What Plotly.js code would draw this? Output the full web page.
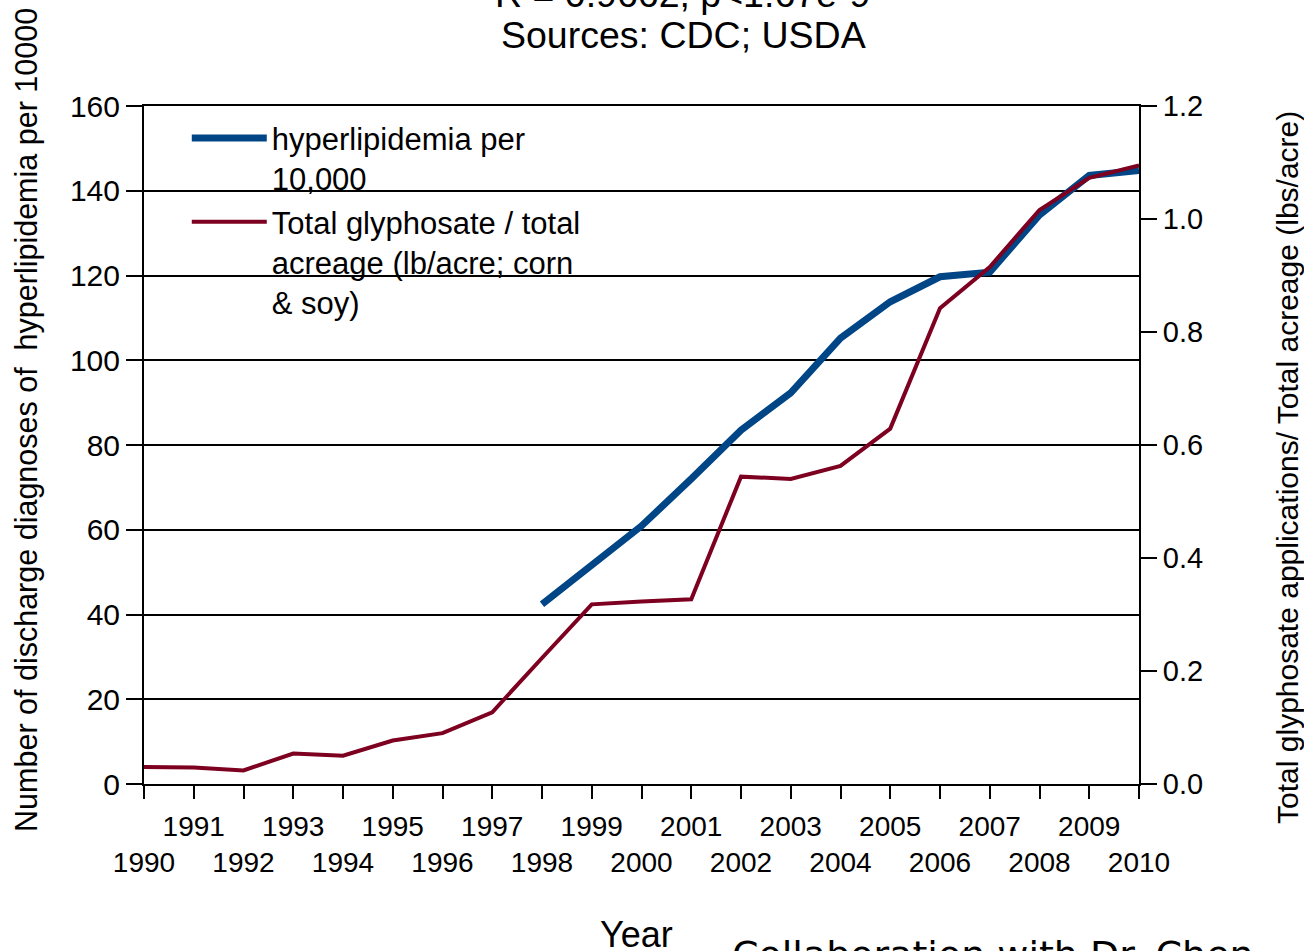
<!DOCTYPE html>
<html>
<head>
<meta charset="utf-8">
<script src="https://cdn.plot.ly/plotly-3.0.1.min.js"></script>
<style>html,body{margin:0;padding:0;background:#fff;}#chart{width:1304px;height:951px;}</style>
</head>
<body>
<div id="chart"></div>
<script>
// Data
const years = [1990,1991,1992,1993,1994,1995,1996,1997,1998,1999,2000,2001,2002,2003,2004,2005,2006,2007,2008,2009,2010];
const hypYears = [1998,1999,2000,2001,2002,2003,2004,2005,2006,2007,2008,2009,2010];
const hyperlipidemia = [42.4,51.5,60.9,72.0,83.5,92.3,105.2,113.8,119.7,120.8,134.3,143.6,144.8];
const glyphosate = [0.030,0.029,0.024,0.054,0.050,0.077,0.090,0.127,0.223,0.318,0.323,0.327,0.544,0.540,0.563,0.629,0.842,0.915,1.016,1.073,1.095];
const xTickVals = years;
const xTickText = years.map(y => (y % 2 === 0 ? '<br>' + y : String(y)));
const leftTicks = [0,20,40,60,80,100,120,140,160];
const rightTicks = [0,0.2,0.4,0.6,0.8,1.0,1.2];
const rightTickText = rightTicks.map(v => v.toFixed(1));
const seriesNames = ['hyperlipidemia per<br>10,000', 'Total glyphosate / total<br>acreage (lb/acre; corn<br>& soy)'];
const titleLine1 = 'R = 0.9662, p<1.67e-9';
const titleLine2 = 'Sources: CDC; USDA';
const leftTitle = 'Number of discharge diagnoses of  hyperlipidemia per 10000';
const rightTitle = 'Total glyphosate applications/ Total acreage (lbs/acre)';
const xTitle = 'Year';
const footer = 'Collaboration with Dr. Chen';

const SANS = 'Liberation Sans, Arial, sans-serif';
const NARROW = 'Liberation Sans Narrow, Liberation Sans, Arial Narrow, sans-serif';

const traces = [
  {x: hypYears, y: hyperlipidemia, type: 'scatter', mode: 'lines', name: seriesNames[0],
   line: {color: '#004586', width: 7}, yaxis: 'y', hoverinfo: 'x+y'},
  {x: years, y: glyphosate, type: 'scatter', mode: 'lines', name: seriesNames[1],
   line: {color: '#7e0021', width: 4}, yaxis: 'y2', hoverinfo: 'x+y'}
];

const layout = {
  width: 1304, height: 951,
  margin: {l: 144, r: 165, t: 106, b: 167, pad: 0},
  paper_bgcolor: '#fff', plot_bgcolor: '#fff',
  font: {family: SANS, color: '#000'},
  showlegend: true,
  legend: {x: 0.043, y: 0.992, xanchor: 'left', yanchor: 'top', bgcolor: 'rgba(0,0,0,0)',
           font: {family: SANS, size: 31, color: '#000'}, itemwidth: 75, valign: 'top',
           tracegroupgap: 0},
  xaxis: {range: [1990, 2010], tickmode: 'array', tickvals: xTickVals, ticktext: xTickText,
          ticks: 'outside', ticklen: 13, tickwidth: 2, tickcolor: '#000',
          showline: true, linecolor: '#000', linewidth: 2, mirror: true,
          showgrid: false, zeroline: false, tickangle: 0, ticklabelstandoff: 3,
          tickfont: {family: SANS, size: 28, color: '#000'}},
  yaxis: {range: [0, 160], tickmode: 'array', tickvals: leftTicks,
          ticks: 'outside', ticklen: 16, tickwidth: 2, tickcolor: '#000',
          showline: true, linecolor: '#000', linewidth: 2,
          showgrid: true, gridcolor: '#000', gridwidth: 2, zeroline: false,
          tickfont: {family: SANS, size: 30, color: '#000'}},
  yaxis2: {range: [0, 1.2], overlaying: 'y', side: 'right', tickmode: 'array',
           tickvals: rightTicks, ticktext: rightTickText,
           ticks: 'outside', ticklen: 16, tickwidth: 2, tickcolor: '#000',
           showline: true, linecolor: '#000', linewidth: 2,
           showgrid: false, zeroline: false,
           tickfont: {family: SANS, size: 29, color: '#000'}},
  annotations: [
    {text: titleLine1, xref: 'paper', yref: 'paper', x: 0.5412, y: 1.1645, xanchor: 'center', yanchor: 'middle',
     showarrow: false, font: {family: SANS, size: 37.5, color: '#000'}},
    {text: titleLine2, xref: 'paper', yref: 'paper', x: 0.5418, y: 1.105, xanchor: 'center', yanchor: 'middle',
     showarrow: false, font: {family: SANS, size: 37.5, color: '#000'}},
    {text: leftTitle, xref: 'paper', yref: 'paper', x: -0.1176, y: 0.537, xanchor: 'center', yanchor: 'middle',
     textangle: -90, showarrow: false, font: {family: NARROW, size: 30.5, color: '#000'}},
    {text: rightTitle, xref: 'paper', yref: 'paper', x: 1.1497, y: 0.4676, xanchor: 'center', yanchor: 'middle',
     textangle: -90, showarrow: false, font: {family: NARROW, size: 30, color: '#000'}},
    {text: xTitle, xref: 'paper', yref: 'paper', x: 0.4945, y: -0.2227, xanchor: 'center', yanchor: 'middle',
     showarrow: false, font: {family: NARROW, size: 36, color: '#000'}},
    {text: footer, xref: 'paper', yref: 'paper', x: 0.589, y: -0.2525, xanchor: 'left', yanchor: 'middle',
     showarrow: false, font: {family: 'DejaVu Sans, sans-serif', size: 38, color: '#000'}}
  ]
};

Plotly.newPlot('chart', traces, layout, {displayModeBar: false, staticPlot: true});
</script>
</body>
</html>
